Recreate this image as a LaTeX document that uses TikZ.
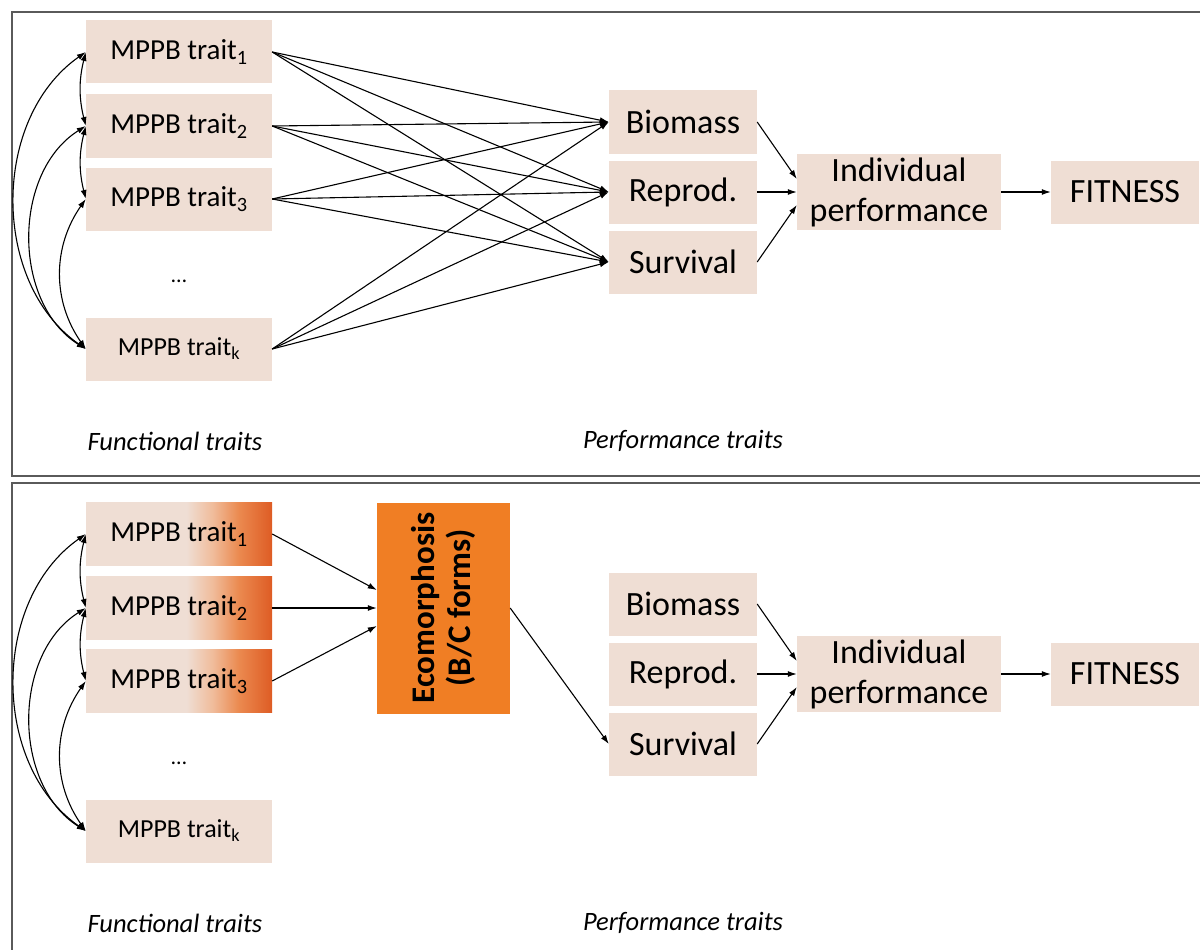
\documentclass[tikz,border=0pt]{standalone}
\usepackage{fontspec}
\setmainfont{Carlito}
\usetikzlibrary{arrows.meta}
\definecolor{boxbeige}{RGB}{239,222,212}
\definecolor{ecoorange}{RGB}{240,126,36}
\definecolor{traitlight}{RGB}{240,188,155}
\definecolor{traitmid}{RGB}{235,138,80}
\definecolor{traitred}{RGB}{222,92,36}
\definecolor{framegray}{RGB}{90,90,90}
%beige on the left, red-orange on the right
\pgfdeclarehorizontalshading{traitshade}{100bp}{color(0bp)=(boxbeige); color(52bp)=(boxbeige); color(59bp)=(traitlight); color(66bp)=(traitmid); color(75bp)=(traitred); color(100bp)=(traitred)}
\tikzset{trait/.style={fill=boxbeige, minimum width=186pt, minimum height=63pt, inner sep=0pt, font=\fontsize{29}{34}\selectfont},
traitk/.style={trait, font=\fontsize{26}{30}\selectfont},
orangetrait/.style={trait, shading=traitshade},
perfbox/.style={fill=boxbeige, minimum width=148pt, minimum height=63pt, inner sep=0pt, font=\fontsize{34}{40}\selectfont},
label/.style={font=\fontsize{26.5}{30}\selectfont\itshape},
link/.style={-{Latex[length=9pt,width=6pt]}, line width=1.1pt},
corr/.style={{Latex[length=9pt,width=6pt]}-{Latex[length=9pt,width=6pt]}, line width=1.1pt}}

\begin{document}
\begin{tikzpicture}[x=1pt, y=-1pt]
    \useasboundingbox (0,0) rectangle (1200,950);
    \draw[framegray, line width=1.6pt] (12,12) rectangle (1210,476);
    \draw[framegray, line width=1.6pt] (12,483) rectangle (1210,960);

    % upper panel
    \node[trait] (t1) at (179,52) {MPPB trait\textsubscript{1}};
    \node[trait] (t2) at (179,126) {MPPB trait\textsubscript{2}};
    \node[trait] (t3) at (179,199) {MPPB trait\textsubscript{3}};
    \node[font=\fontsize{22}{26}\selectfont] (dots) at (179,281) {\dots};
    \node[traitk] (tk) at (179,349) {MPPB trait\textsubscript{k}};
    \node[perfbox] (bio) at (683,122) {Biomass};
    \node[perfbox] (rep) at (683,192) {Reprod.};
    \node[perfbox] (sur) at (683,262) {Survival};
    \node[perfbox, minimum width=204pt, minimum height=76pt, align=center] (ind) at (899,192) {Individual\\performance};
    \node[perfbox] (fit) at (1125,192) {FITNESS};
    \node[label] (fun) at (175,441) {Functional traits};
    \node[label] (per) at (683,441) {Performance traits};

    \foreach \t in {t1,t2,t3,tk}
        \foreach \p in {bio,rep,sur}
            \draw[link] (\t.east) -- (\p.west);
    \draw[link] (bio.east) -- ([yshift=13pt]ind.west);
    \draw[link] (rep.east) -- (ind.west);
    \draw[link] (sur.east) -- ([yshift=-13pt]ind.west);
    \draw[link] (ind.east) -- (fit.west);
    \draw[corr] (t1.west) to[bend right=55] (tk.west);
    \draw[corr] (t2.west) to[bend right=58] (tk.west);
    \draw[corr] (t3.west) to[bend right=35] (tk.west);
    \draw[corr] (t1.west) to[bend right=14] (t2.west);
    \draw[corr] (t2.west) to[bend right=14] (t3.west);

    % lower panel
    \node[orangetrait] (b1) at (179,534) {MPPB trait\textsubscript{1}};
    \node[orangetrait] (b2) at (179,608) {MPPB trait\textsubscript{2}};
    \node[orangetrait] (b3) at (179,681) {MPPB trait\textsubscript{3}};
    \node[font=\fontsize{22}{26}\selectfont] (bdots) at (179,763) {\dots};
    \node[traitk] (bk) at (179,831) {MPPB trait\textsubscript{k}};
    \node[fill=ecoorange, rotate=90, minimum width=211pt, minimum height=133pt, inner sep=0pt, align=center, font=\fontsize{33}{36}\selectfont\bfseries] (eco) at (443.5,608) {Ecomorphosis\\(B/C forms)};
    \node[perfbox] (bbio) at (683,604) {Biomass};
    \node[perfbox] (brep) at (683,674) {Reprod.};
    \node[perfbox] (bsur) at (683,744) {Survival};
    \node[perfbox, minimum width=204pt, minimum height=76pt, align=center] (bind) at (899,674) {Individual\\performance};
    \node[perfbox] (bfit) at (1125,674) {FITNESS};
    \node[label] (bfun) at (175,923) {Functional traits};
    \node[label] (bper) at (683,923) {Performance traits};

    % the node eco is turned, so its north side faces left
    \draw[link] (b1.east) -- ([yshift=18pt]eco.north);
    \draw[link] (b2.east) -- (eco.north);
    \draw[link] (b3.east) -- ([yshift=-18pt]eco.north);
    \draw[link] (eco.south) -- (bsur.west);
    \draw[link] (bbio.east) -- ([yshift=13pt]bind.west);
    \draw[link] (brep.east) -- (bind.west);
    \draw[link] (bsur.east) -- ([yshift=-13pt]bind.west);
    \draw[link] (bind.east) -- (bfit.west);
    \draw[corr] (b1.west) to[bend right=55] (bk.west);
    \draw[corr] (b2.west) to[bend right=58] (bk.west);
    \draw[corr] (b3.west) to[bend right=35] (bk.west);
    \draw[corr] (b1.west) to[bend right=14] (b2.west);
    \draw[corr] (b2.west) to[bend right=14] (b3.west);
\end{tikzpicture}
\end{document}
